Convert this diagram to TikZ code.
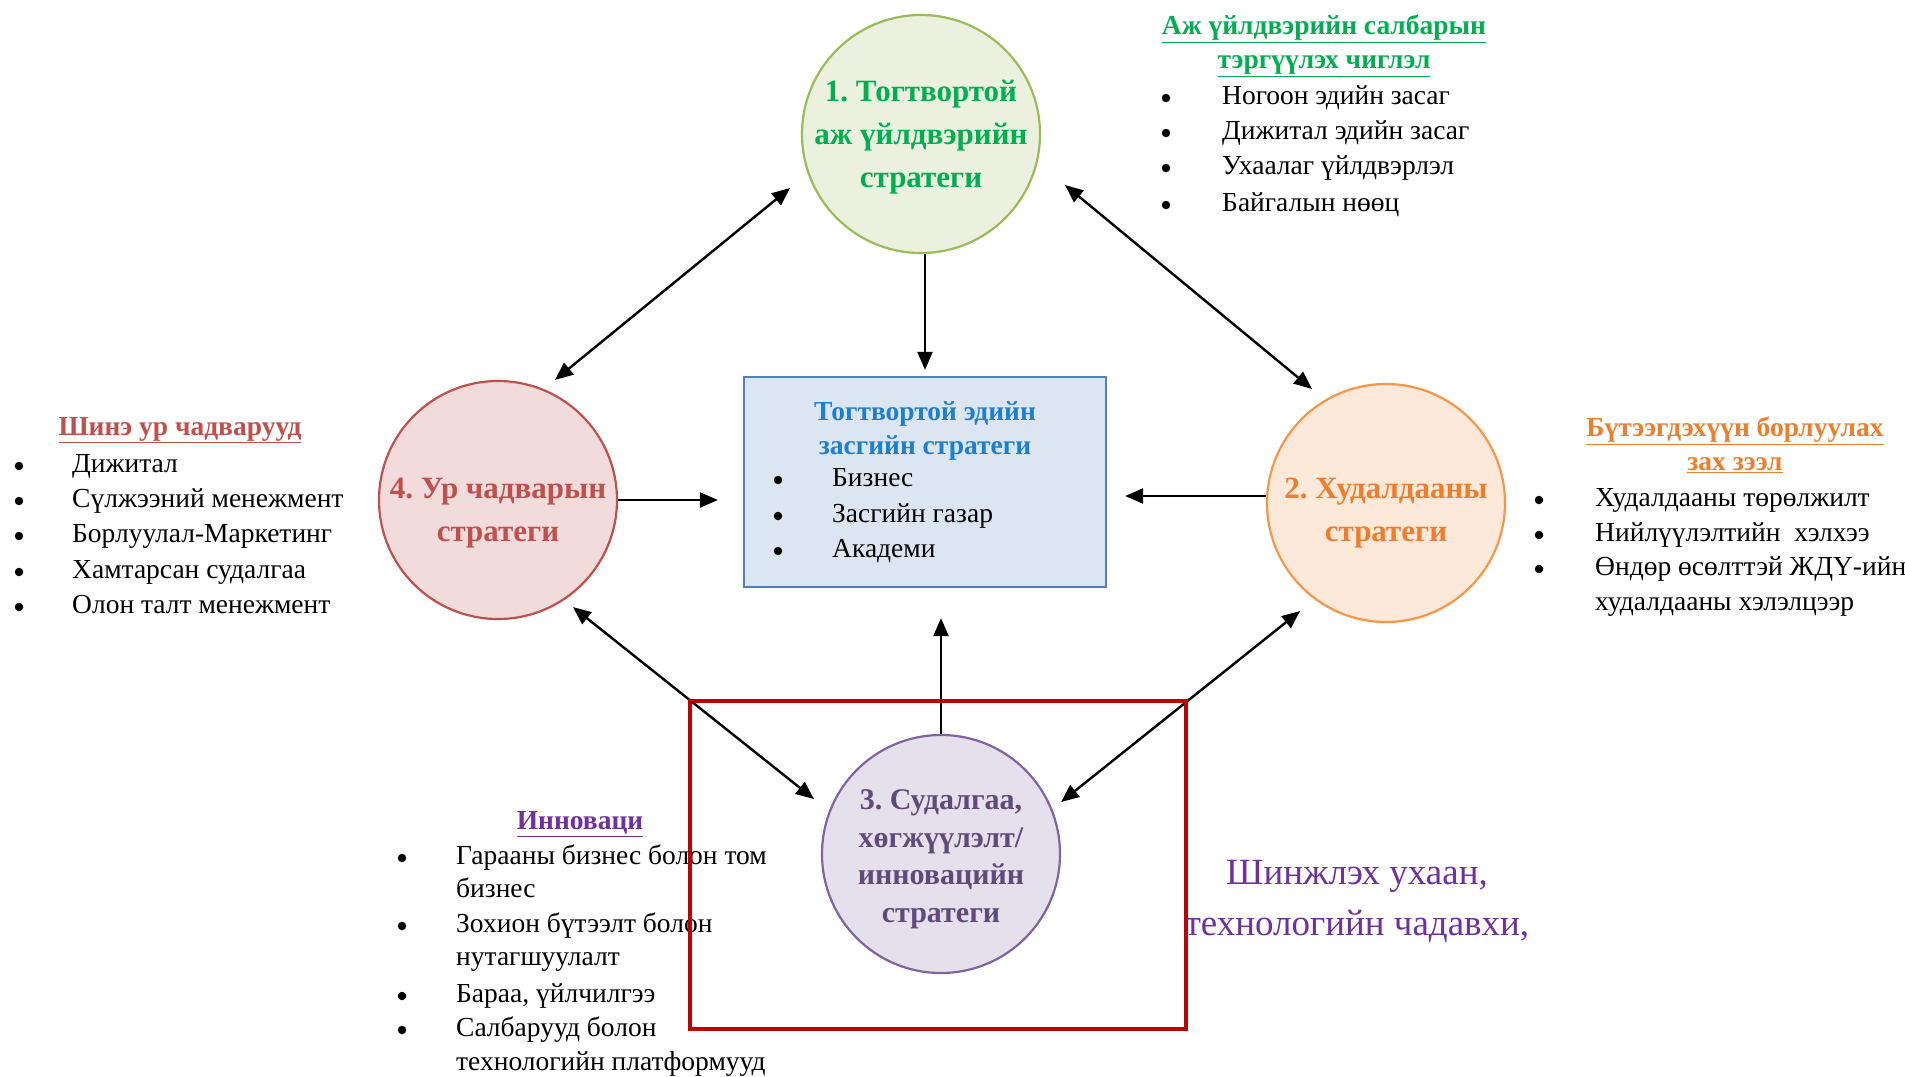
\documentclass[tikz,border=0pt]{standalone}
\usepackage{fontspec}
\setmainfont{Liberation Serif}
\usetikzlibrary{arrows.meta,calc}
\frenchspacing

\definecolor{grnText}{HTML}{00B050}
\definecolor{grnLine}{HTML}{9BBB59}
\definecolor{grnFill}{HTML}{EBF1DE}
\definecolor{redText}{HTML}{C0504D}
\definecolor{redLine}{HTML}{C0504D}
\definecolor{redFill}{HTML}{F2DCDB}
\definecolor{orgText}{HTML}{F07D2C}
\definecolor{orgLine}{HTML}{F79646}
\definecolor{orgFill}{HTML}{FDE9D9}
\definecolor{prpText}{HTML}{604A7B}
\definecolor{prpLine}{HTML}{8064A2}
\definecolor{prpFill}{HTML}{E5E0EC}
\definecolor{prpHead}{HTML}{7030A0}
\definecolor{bluText}{HTML}{1F7FCF}
\definecolor{bluLine}{HTML}{4F81BD}
\definecolor{bluFill}{HTML}{DCE6F2}
\definecolor{boxRed}{HTML}{C00000}

% one bullet line: name, bullet x, text x, y, text
\newcommand\bulletline[5]{%
  \node[dot] (#1b) at (#2,-#4) {};
  \node[listtxt, anchor=west, inner xsep=0pt] (#1) at (#3,-#4) {#5};}
% continuation line of a bullet item
\newcommand\contline[4]{%
  \node[listtxt, anchor=west, inner xsep=0pt] (#1) at (#2,-#3) {#4};}

\begin{document}
\begin{tikzpicture}[x=1pt,y=1pt,
  strategy/.style={circle, minimum size=238pt, inner sep=0pt, line width=2.2pt},
  circtxt/.style={align=center, font=\fontsize{31}{43}\selectfont\bfseries},
  listtxt/.style={font=\fontsize{27.5}{34}\selectfont, text height=18pt, text depth=6pt, inner ysep=0pt},
  dot/.style={circle, fill=black, inner sep=0pt, minimum size=8.5pt},
  headtxt/.style={align=center, font=\fontsize{27.5}{34}\selectfont\bfseries},
  link/.style={line width=2.4pt, -{Triangle[length=18pt,width=15pt]}},
  twoway/.style={line width=2.4pt, {Triangle[length=18pt,width=15pt]}-{Triangle[length=18pt,width=15pt]}}
]
\fill[white] (0,0) rectangle (1905,-1076);
\useasboundingbox (0,0) rectangle (1905,-1076);

% central box
\node[draw=bluLine, fill=bluFill, line width=2.2pt, minimum width=362pt, minimum height=210pt, inner sep=0pt]
  (core) at (925,-482) {};
\node[headtxt, text=bluText] (corehead) at (925,-431)
  {Тогтвортой эдийн\\засгийн стратеги};
\bulletline{corea}{778}{832}{480}{Бизнес}
\bulletline{coreb}{778}{832}{516}{Засгийн газар}
\bulletline{corec}{778}{832}{551}{Академи}

% four strategy circles
\node[strategy, draw=grnLine, fill=grnFill] (c1) at (921,-134) {};
\node[strategy, draw=orgLine, fill=orgFill] (c2) at (1386,-503) {};
\node[strategy, draw=prpLine, fill=prpFill] (c3) at (941,-854) {};
\node[strategy, draw=redLine, fill=redFill] (c4) at (498,-500) {};

\node[circtxt, text=grnText] (c1t) at (921,-137) {1. Тогтвортой\\аж үйлдвэрийн\\стратеги};
\node[circtxt, text=orgText] (c2t) at (1386,-513) {2. Худалдааны\\стратеги};
\node[circtxt, text=prpText, font=\fontsize{30}{37.5}\selectfont\bfseries] (c3t) at (941,-859)
  {3. Судалгаа,\\хөгжүүлэлт/\\инновацийн\\стратеги};
\node[circtxt, text=redText] (c4t) at (498,-513) {4. Ур чадварын\\стратеги};

% arrows into the central box
\draw[link, shorten >=6pt] (c1.south -| core.north) -- (core.north);
\draw[link, shorten >=25pt] (c4.east) -- (c4.east -| core.west);
\draw[link, shorten >=18pt] ([yshift=7pt]c2.west) -- ([yshift=7pt]c2.west -| core.east);
\draw[link, shorten >=30pt] (c3.north) -- (c3.north |- core.south);

% two-way arrows between the circles
\draw[twoway] ($(c1)+(202.4:141.7pt)$) -- ($(c4)+(64.6:132.9pt)$);
\draw[twoway] ($(c1)+(340.5:152.8pt)$) -- ($(c2)+(123:135.9pt)$);
\draw[twoway] ($(c4)+(305:130.7pt)$) -- ($(c3)+(156.6:138.4pt)$);
\draw[twoway] ($(c2)+(231.5:138pt)$) -- ($(c3)+(23.4:130.8pt)$);

% industry priorities
\node[headtxt, text=grnText] (gh) at (1324,-46)
  {\underline{Аж үйлдвэрийн салбарын}\\\underline{тэргүүлэх чиглэл}};
\bulletline{ga}{1166}{1222}{98}{Ногоон эдийн засаг}
\bulletline{gb}{1166}{1222}{133}{Дижитал эдийн засаг}
\bulletline{gc}{1166}{1222}{168}{Ухаалаг үйлдвэрлэл}
\bulletline{gd}{1166}{1222}{205}{Байгалын нөөц}

% new skills
\node[headtxt, text=redText] (rh) at (180,-430) {\underline{Шинэ ур чадварууд}};
\bulletline{ra}{19}{72}{466}{Дижитал}
\bulletline{rb}{19}{72}{501}{Сүлжээний менежмент}
\bulletline{rc}{19}{72}{536}{Борлуулал-Маркетинг}
\bulletline{rd}{19}{72}{572}{Хамтарсан судалгаа}
\bulletline{re}{19}{72}{607}{Олон талт менежмент}

% markets
\node[headtxt, text=orgText] (oh) at (1735,-445)
  {\underline{Бүтээгдэхүүн борлуулах}\\\underline{зах зээл}};
\bulletline{oa}{1539}{1595}{500}{Худалдааны төрөлжилт}
\bulletline{ob}{1539}{1595}{535}{Нийлүүлэлтийн\ \ хэлхээ}
\bulletline{oc}{1539}{1595}{569}{Өндөр өсөлттэй ЖДҮ-ийн}
\contline{od}{1595}{604}{худалдааны хэлэлцээр}

% innovation
\node[headtxt, text=prpHead] (ph) at (580,-824) {\underline{Инноваци}};
\bulletline{pa}{402}{456}{858}{Гарааны бизнес болон том}
\contline{pa2}{456}{891}{бизнес}
\bulletline{pb}{402}{456}{926}{Зохион бүтээлт болон}
\contline{pb2}{456}{959}{нутагшуулалт}
\bulletline{pc}{402}{456}{996}{Бараа, үйлчилгээ}
\bulletline{pd}{402}{456}{1030}{Салбарууд болон}
\contline{pd2}{456}{1064}{технологийн платформууд}

% science and technology capacity
\node[align=center, text=prpHead, font=\fontsize{37}{51}\selectfont] (sci) at (1357,-901)
  {Шинжлэх ухаан,\\технологийн чадавхи,};

% highlight frame
\node[draw=boxRed, line width=4.5pt, minimum width=496pt, minimum height=328pt, inner sep=0pt]
  (frame) at (938,-865) {};
\end{tikzpicture}
\end{document}
